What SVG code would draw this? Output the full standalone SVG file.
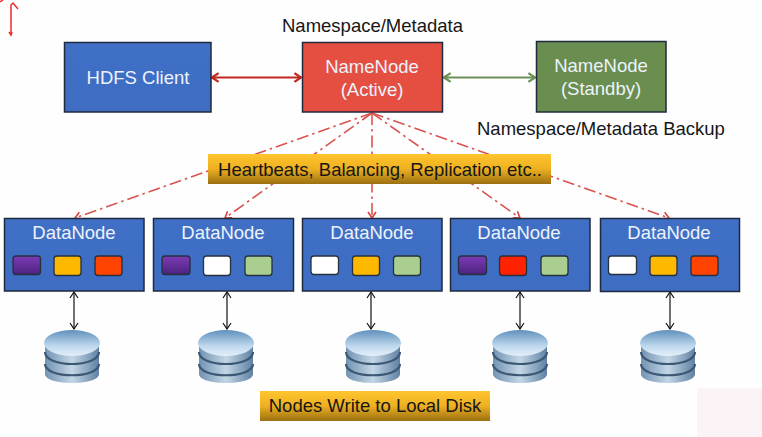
<svg xmlns="http://www.w3.org/2000/svg" width="762" height="437" viewBox="0 0 762 437">
  <style>
    text { font-family: "Liberation Sans", Arial, sans-serif; font-size: 18.5px; }
    .box { stroke: #1f2a3c; stroke-width: 1.5; }
    .blue { fill: url(#blueFill); }
    .light { fill: #eef3fb; text-anchor: middle; }
    .dark { fill: #161616; }
    .banner { fill: url(#gold); }
    .chip { stroke: #26303f; stroke-width: 1.3; }
    .purple { fill: url(#purpleFill); }
    .amber { fill: #ffb800; }
    .orange { fill: #ff4300; }
    .white { fill: #fff; }
    .green { fill: #a9ce8f; }
    .red { fill: #ff2200; }
    .ctl { fill: none; stroke: #d9534f; stroke-width: 1.6; stroke-dasharray: 12 4 2.500 4; }
    .io { fill: none; stroke: #111; stroke-width: 1.2; }
  </style>
  <defs>
    <linearGradient id="blueFill" x1="0" y1="0" x2="0" y2="1">
      <stop offset="0" stop-color="#3f70c6"/>
      <stop offset="1" stop-color="#3e6dc2"/>
    </linearGradient>
    <linearGradient id="gold" x1="0" y1="0" x2="0" y2="1">
      <stop offset="0" stop-color="#ffc52e"/>
      <stop offset="0.5" stop-color="#eeb021"/>
      <stop offset="1" stop-color="#9a7012"/>
    </linearGradient>
    <linearGradient id="purpleFill" x1="0" y1="0" x2="0" y2="1">
      <stop offset="0" stop-color="#7c3bb5"/>
      <stop offset="1" stop-color="#4c2380"/>
    </linearGradient>
    <linearGradient id="diskTop" x1="0" y1="0" x2="0" y2="1">
      <stop offset="0" stop-color="#5f90bd"/>
      <stop offset="0.6" stop-color="#bcd6ec"/>
      <stop offset="1" stop-color="#e4eff8"/>
    </linearGradient>
    <linearGradient id="diskSide" x1="0" y1="0" x2="1" y2="0">
      <stop offset="0" stop-color="#7293b2"/>
      <stop offset="0.5" stop-color="#c3d6e6"/>
      <stop offset="1" stop-color="#5f81a3"/>
    </linearGradient>
    <marker id="redHead" viewBox="0 0 10 10" refX="9" refY="5" markerUnits="userSpaceOnUse" markerWidth="11" markerHeight="11" orient="auto-start-reverse">
      <path d="M3 1 L9 5 L3 9" fill="none" stroke="#c0281f" stroke-width="2"/>
    </marker>
    <marker id="greenHead" viewBox="0 0 10 10" refX="9" refY="5" markerUnits="userSpaceOnUse" markerWidth="11" markerHeight="11" orient="auto-start-reverse">
      <path d="M3 1 L9 5 L3 9" fill="none" stroke="#6b8f55" stroke-width="2"/>
    </marker>
    <marker id="blackHead" viewBox="0 0 10 10" refX="9" refY="5" markerUnits="userSpaceOnUse" markerWidth="10" markerHeight="10" orient="auto-start-reverse">
      <path d="M3 1 L9 5 L3 9" fill="none" stroke="#111" stroke-width="1.2"/>
    </marker>
    <marker id="ctlHead" viewBox="0 0 10 10" refX="9" refY="5" markerUnits="userSpaceOnUse" markerWidth="10" markerHeight="10" orient="auto">
      <path d="M3 1 L9 5 L3 9" fill="none" stroke="#d9403c" stroke-width="1.6"/>
    </marker>
    <g id="disk">
      <path d="M-27 16 V44 C-27 56 27 56 27 44 V16 Z" fill="url(#diskSide)"/>
      <path d="M-27 22 C-27 38 27 38 27 22" fill="none" stroke="#3d5874" stroke-width="2.200"/>
      <path d="M-27 34 C-27 49 27 49 27 34" fill="none" stroke="#3d5874" stroke-width="2.200"/>
      <ellipse cx="0" cy="13" rx="28" ry="13" fill="url(#diskTop)"/>
    </g>
  </defs>

  <rect width="762" height="437" fill="#fefefe"/>
  <rect x="697" y="388" width="65" height="49" fill="#fcf3f7"/>

  <!-- pen marks in the corner -->
  <g fill="none" stroke="#ee2a2a" stroke-width="1.5">
    <path d="M11 35 V5 L13 3 L18 9"/>
    <path d="M9 32 L11 35 L12 32"/>
    <path d="M0 2 L3 0"/>
  </g>

  <g id="connectors">
    <line x1="212" y1="77.500" x2="301" y2="77.500" stroke="#c0281f" stroke-width="2.200" marker-start="url(#redHead)" marker-end="url(#redHead)"/>
    <line x1="444" y1="77.500" x2="535" y2="77.500" stroke="#6b8f55" stroke-width="2.200" marker-start="url(#greenHead)" marker-end="url(#greenHead)"/>
    <line class="ctl" x1="372" y1="113" x2="75" y2="218" marker-end="url(#ctlHead)"/>
    <line class="ctl" x1="372" y1="113" x2="225" y2="218" marker-end="url(#ctlHead)"/>
    <line class="ctl" x1="372" y1="113" x2="372" y2="218" marker-end="url(#ctlHead)"/>
    <line class="ctl" x1="372" y1="113" x2="520" y2="218" marker-end="url(#ctlHead)"/>
    <line class="ctl" x1="372" y1="113" x2="669" y2="218" marker-end="url(#ctlHead)"/>
    <line class="io" x1="74" y1="292" x2="74" y2="329" marker-start="url(#blackHead)" marker-end="url(#blackHead)"/>
    <line class="io" x1="227" y1="292" x2="227" y2="329" marker-start="url(#blackHead)" marker-end="url(#blackHead)"/>
    <line class="io" x1="371" y1="292" x2="371" y2="329" marker-start="url(#blackHead)" marker-end="url(#blackHead)"/>
    <line class="io" x1="520" y1="292" x2="520" y2="329" marker-start="url(#blackHead)" marker-end="url(#blackHead)"/>
    <line class="io" x1="670" y1="292" x2="670" y2="329" marker-start="url(#blackHead)" marker-end="url(#blackHead)"/>
  </g>

  <g id="hdfs-client">
    <rect class="box blue" x="64.500" y="42.500" width="146.500" height="69.500"/>
    <text class="light" x="138" y="84">HDFS Client</text>
  </g>
  <g id="namenode-active">
    <rect class="box" x="302.500" y="42.500" width="140" height="69.500" fill="#e44f41"/>
    <text class="light" x="372" y="73">NameNode</text>
    <text class="light" x="372" y="96">(Active)</text>
  </g>
  <g id="namenode-standby">
    <rect class="box" x="536.500" y="41.500" width="129.500" height="70.500" fill="#6a8e50"/>
    <text class="light" x="601" y="72">NameNode</text>
    <text class="light" x="601" y="95">(Standby)</text>
  </g>
  <text id="label-metadata" class="dark" x="372.500" y="32" text-anchor="middle">Namespace/Metadata</text>
  <text id="label-backup" class="dark" x="477" y="135">Namespace/Metadata Backup</text>

  <g id="banner-heartbeats">
    <rect class="banner" x="208" y="154" width="343" height="30"/>
    <text class="dark" x="380" y="176" text-anchor="middle">Heartbeats, Balancing, Replication etc..</text>
  </g>

  <g id="datanode-1">
    <rect class="box blue" x="4.500" y="218.500" width="139.500" height="72.500"/>
    <text class="light" x="74" y="239">DataNode</text>
    <rect class="chip purple" x="13" y="256" width="27.500" height="18.500" rx="3"/>
    <rect class="chip amber" x="54" y="256" width="27" height="19.500" rx="3"/>
    <rect class="chip orange" x="95" y="256" width="27" height="19.500" rx="3"/>
  </g>
  <g id="datanode-2">
    <rect class="box blue" x="153.500" y="218.500" width="140" height="72.500"/>
    <text class="light" x="223" y="239">DataNode</text>
    <rect class="chip purple" x="162" y="256" width="28" height="18.500" rx="3"/>
    <rect class="chip white" x="203.500" y="256" width="27" height="19.500" rx="3"/>
    <rect class="chip green" x="245" y="256" width="27" height="19.500" rx="3"/>
  </g>
  <g id="datanode-3">
    <rect class="box blue" x="302.500" y="218.500" width="139.500" height="72.500"/>
    <text class="light" x="372" y="239">DataNode</text>
    <rect class="chip white" x="311" y="256" width="27.500" height="18.500" rx="3"/>
    <rect class="chip amber" x="352.500" y="256" width="27" height="19.500" rx="3"/>
    <rect class="chip green" x="393.500" y="256" width="27" height="19.500" rx="3"/>
  </g>
  <g id="datanode-4">
    <rect class="box blue" x="450.500" y="218.500" width="139.500" height="72.500"/>
    <text class="light" x="519" y="239">DataNode</text>
    <rect class="chip purple" x="458.500" y="256" width="28" height="18.500" rx="3"/>
    <rect class="chip red" x="499.500" y="256" width="27" height="19.500" rx="3"/>
    <rect class="chip green" x="541" y="256" width="27" height="19.500" rx="3"/>
  </g>
  <g id="datanode-5">
    <rect class="box blue" x="600.500" y="218.500" width="139" height="73"/>
    <text class="light" x="669" y="239">DataNode</text>
    <rect class="chip white" x="608.500" y="256" width="28" height="18.500" rx="3"/>
    <rect class="chip amber" x="650" y="256" width="27" height="19.500" rx="3"/>
    <rect class="chip orange" x="691" y="256" width="27" height="19.500" rx="3"/>
  </g>

  <g id="disk-1"><use href="#disk" x="72" y="330"/></g>
  <g id="disk-2"><use href="#disk" x="226" y="330"/></g>
  <g id="disk-3"><use href="#disk" x="373" y="330"/></g>
  <g id="disk-4"><use href="#disk" x="520" y="330"/></g>
  <g id="disk-5"><use href="#disk" x="668" y="330"/></g>

  <g id="banner-disk">
    <rect class="banner" x="260" y="391" width="230" height="30"/>
    <text class="dark" x="375" y="412" text-anchor="middle">Nodes Write to Local Disk</text>
  </g>
</svg>
